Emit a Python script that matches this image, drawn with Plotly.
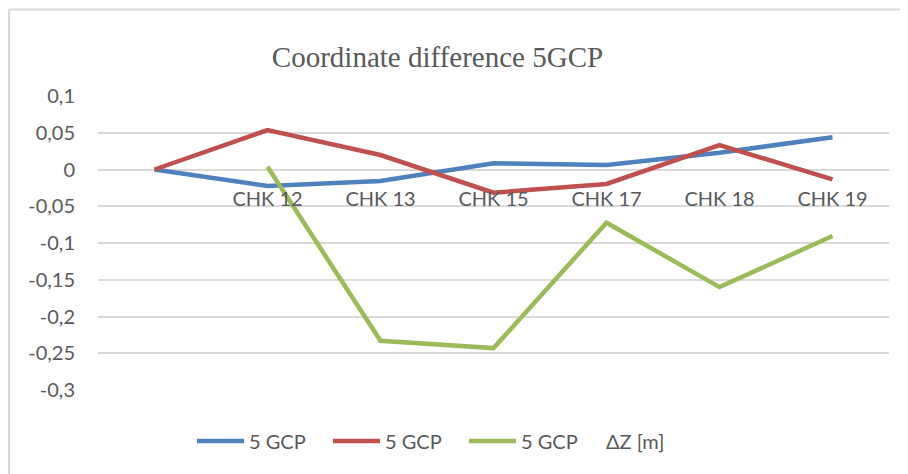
import plotly.graph_objects as go

categories = ["", "CHK 12", "CHK 13", "CHK 15", "CHK 17", "CHK 18", "CHK 19"]
series_names = ["5 GCP", "5 GCP", "5 GCP"]
blue_vals = [0.0, -0.0224, -0.0156, 0.0084, 0.0060, 0.0229, 0.0438]
red_vals = [0.0, 0.0537, 0.0197, -0.0316, -0.0197, 0.0333, -0.0134]
green_vals = [None, 0.0038, -0.233, -0.243, -0.0724, -0.160, -0.0905]
colors = ["#4F81BD", "#C0504D", "#9BBB59"]
y_ticks = [0.1, 0.05, 0, -0.05, -0.1, -0.15, -0.2, -0.25, -0.3]
y_ticklabels = ["0,1", "0,05", "0", "-0,05", "-0,1", "-0,15", "-0,2", "-0,25", "-0,3"]
extra_legend_label = "ΔZ [m]"
title_text = "Coordinate difference 5GCP"

xs = list(range(len(categories)))
font_fam = "Lato, 'Open Sans', sans-serif"
txt_col = "#595959"
fs = 20

fig = go.Figure()
for name, vals, col in zip(series_names, [blue_vals, red_vals, green_vals], colors):
    fig.add_trace(go.Scatter(x=xs, y=vals, mode="lines", name=name,
                             line=dict(color=col, width=4.5),
                             connectgaps=False))

# page has an 8px body margin, so the figure is sized/positioned to compensate
W, H = 900, 466
L, R, T, B = 90, 19, 88, 84
ymin, ymax = -0.3, 0.1
zero_pos = (0 - ymin) / (ymax - ymin)
pw, ph = W - L - R, H - T - B
leg_y = (H - B - 433) / ph

fig.update_layout(
    width=W, height=H,
    margin=dict(l=L, r=R, t=T, b=B, autoexpand=False),
    paper_bgcolor="white", plot_bgcolor="white",
    font=dict(family=font_fam, size=fs, color=txt_col),
    title=dict(text=title_text, x=429.5 / W, xanchor="center", xref="container",
               y=1 - 48.5 / H, yanchor="middle",
               font=dict(family="'Liberation Serif', 'Times New Roman', serif", size=29, color=txt_col)),
    showlegend=True,
    legend=dict(orientation="h", x=(184 - L) / pw, xanchor="left",
                y=leg_y, yanchor="middle",
                font=dict(family=font_fam, size=fs, color=txt_col),
                itemwidth=47, entrywidth=74, entrywidthmode="pixels",
                bgcolor="rgba(0,0,0,0)"),
    xaxis=dict(range=[-0.5, len(categories) - 0.5], tickmode="array",
               tickvals=xs[1:], ticktext=categories[1:],
               showgrid=False, zeroline=False, showline=False, automargin=False,
               anchor="free", position=zero_pos, side="bottom",
               ticks="outside", ticklen=11, tickcolor="rgba(0,0,0,0)",
               tickfont=dict(family=font_fam, size=fs, color=txt_col)),
    yaxis=dict(range=[ymin, ymax], tickmode="array", tickvals=y_ticks, ticktext=y_ticklabels,
               showgrid=True, gridcolor="#D9D9D9", gridwidth=1.5, automargin=False,
               zeroline=True, zerolinecolor="#D9D9D9", zerolinewidth=1.5,
               showline=False, ticks="outside", ticklen=18, tickcolor="rgba(0,0,0,0)",
               tickfont=dict(family=font_fam, size=fs, color=txt_col)),
)

# ΔZ label next to legend
fig.add_annotation(text=extra_legend_label, xref="paper", yref="paper",
                   x=(596 - L) / pw, xanchor="left",
                   y=leg_y, yanchor="middle",
                   showarrow=False, font=dict(family=font_fam, size=fs, color=txt_col))

# chart border (top and left edges)
bx = (1 - L) / pw
by = (H - B - 1.5) / ph
fig.add_shape(type="line", xref="paper", yref="paper", x0=bx, x1=(W - L) / pw, y0=by, y1=by,
              line=dict(color="#D9D9D9", width=2))
fig.add_shape(type="line", xref="paper", yref="paper", x0=bx, x1=bx, y0=by, y1=-B / ph,
              line=dict(color="#D9D9D9", width=2))

fig.write_html("out.html")
